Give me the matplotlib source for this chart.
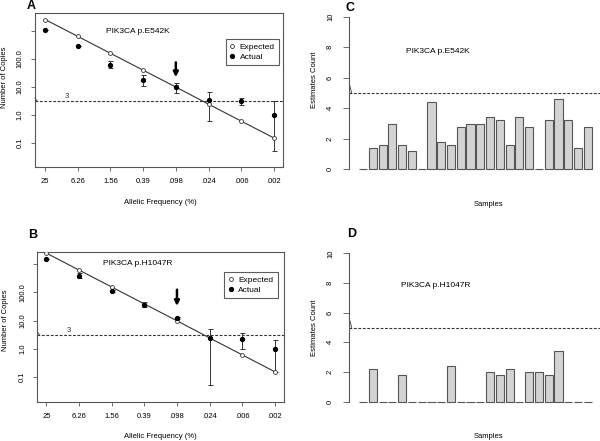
import numpy as np
import matplotlib
matplotlib.use('Agg')
import matplotlib.pyplot as plt

plt.rcParams['font.family'] = ['Liberation Sans', 'DejaVu Sans']

# dilution series
freq_labels = ['25', '6.26', '1.56', '0.39', '.098', '.024', '.006', '.002']
expected = [2500, 625, 156, 39, 9.8, 2.4, 0.6, 0.15]

# panel A - PIK3CA p.E542K
act_a = [1100, 280, 58, 17, 9.5, 3.4, 3.1, 1.0]
act_a_lo = [1100, 280, 45, 10.5, 6.0, 0.6, 2.3, 0.05]
act_a_hi = [1100, 280, 80, 26, 14, 6.5, 4.0, 3.2]

# panel B - PIK3CA p.H1047R
act_b = [1600, 400, 115, 37, 12, 2.3, 2.2, 1.0]
act_b_lo = [1600, 330, 105, 30, 11, 0.05, 1.0, 0.15]
act_b_hi = [1600, 480, 125, 45, 13, 5.0, 3.5, 2.0]

# panels C / D - estimates per sample
est_c = [0, 1.4, 1.6, 3.0, 1.6, 1.2, 0, 4.4, 1.8, 1.6, 2.8, 3.0,
         3.0, 3.4, 3.2, 1.6, 3.4, 2.8, 0, 3.2, 4.6, 3.2, 1.4, 2.8]
est_d = [0, 2.2, 0, 0, 1.8, 0, 0, 0, 0, 2.4, 0, 0,
         0, 2.0, 1.8, 2.2, 0, 2.0, 2.0, 1.8, 3.4, 0, 0, 0]

W, H = 600, 441
fig = plt.figure(figsize=(6, 4.41), dpi=100)
fs = 5.5
dark = '#333333'
frame = '#555555'


def px_axes(l, t, r, b):
    return fig.add_axes([l / W, 1 - b / H, (r - l) / W, (b - t) / H])


def copies_panel(ax, act, lo, hi, title, xlim, ylim, arrow, leg_anchor, three_x):
    x = np.arange(1, len(expected) + 1)
    ax.set_yscale('log')
    ax.plot(x, expected, '-', color=dark, lw=0.8, zorder=2)
    ax.plot(x, expected, 'o', mfc='white', mec=dark, ms=2.8, mew=0.6,
            label='Expected', zorder=3)
    err = [np.array(act) - np.array(lo), np.array(hi) - np.array(act)]
    ax.errorbar(x, act, yerr=err, fmt='none', ecolor=dark, elinewidth=0.7,
                capsize=1.8, capthick=0.7, zorder=2)
    ax.plot(x, act, 'o', color='black', ms=2.8, label='Actual', zorder=4)
    ax.axhline(3, color=dark, ls=(0, (2.5, 1.5)), lw=0.8)
    ax.text(three_x, 3.4, '3', fontsize=fs, color=dark, ha='center', va='bottom')
    # small mark at the start of the threshold line
    ax.plot([xlim[0], xlim[0] + 0.07], [3 * 1.35, 3], color=dark, lw=0.6,
            clip_on=False)
    ax.annotate('', xy=(5, arrow[1]), xytext=(5, arrow[0]),
                arrowprops=dict(arrowstyle='-|>', lw=1.8, color='black',
                                mutation_scale=7, shrinkA=0, shrinkB=0))
    ax.text(title[0], title[1], title[2], transform=ax.transAxes, fontsize=fs + 0.5,
            ha='center', va='center')
    ax.set_xlim(*xlim)
    ax.set_ylim(*ylim)
    ax.set_xticks(x)
    ax.set_xticklabels(freq_labels)
    ax.set_yticks([0.1, 1, 10, 100, 1000])
    ax.set_yticklabels(['0.1', '1.0', '10.0', '100.0', ''])
    ax.minorticks_off()
    ax.tick_params(labelsize=fs, length=3, width=0.6, color=frame, pad=5)
    for lab in ax.get_yticklabels():
        lab.set_rotation(90)
        lab.set_va('center')
    for s in ax.spines.values():
        s.set_color(frame)
        s.set_linewidth(0.8)
    leg = ax.legend(loc='upper right', bbox_to_anchor=leg_anchor, fontsize=fs + 0.5,
                    frameon=True, fancybox=False, handlelength=0.6,
                    handletextpad=0.6, borderpad=0.5, labelspacing=0.3,
                    borderaxespad=0)
    leg.get_frame().set_edgecolor(dark)
    leg.get_frame().set_linewidth(0.8)


def count_panel(ax, vals, title_xy, title):
    pos = 0.7 + 1.2 * np.arange(len(vals))
    ax.bar(pos, vals, width=1.0, color='#d3d3d3', edgecolor='#555555', lw=0.8)
    ax.axhline(5, color=dark, ls=(0, (2.5, 1.5)), lw=0.8)
    ax.plot([-0.99, -0.7], [5.6, 5.0], color=dark, lw=0.6, clip_on=False)
    ax.text(title_xy[0], title_xy[1], title, fontsize=fs + 0.5, ha='center',
            va='center')
    ax.set_xlim(-0.99, 29.8)
    ax.set_ylim(-0.4, 10.4)
    for s in ['top', 'right', 'bottom']:
        ax.spines[s].set_visible(False)
    ax.spines['left'].set_bounds(0, 10)
    ax.spines['left'].set_color(frame)
    ax.spines['left'].set_linewidth(0.8)
    ax.set_xticks([])
    ax.set_yticks([0, 2, 4, 6, 8, 10])
    ax.tick_params(labelsize=fs, length=4, width=0.6, color=frame, pad=7)
    for lab in ax.get_yticklabels():
        lab.set_rotation(90)
        lab.set_va('center')


ax_a = px_axes(35, 13, 283, 167.3)
copies_panel(ax_a, act_a, act_a_lo, act_a_hi, (0.415, 0.877, 'PIK3CA p.E542K'),
             (0.69, 8.28), (10 ** -1.87, 10 ** 3.63), (74, 22), (0.984, 0.832), 1.67)
ax_b = px_axes(37.3, 251.7, 284, 402.3)
copies_panel(ax_b, act_b, act_b_lo, act_b_hi, (0.408, 0.923, 'PIK3CA p.H1047R'),
             (0.72, 8.28), (10 ** -1.91, 10 ** 3.45), (125, 33), (0.974, 0.867), 1.67)

ax_c = px_axes(349.3, 10.6, 600, 175.4)
count_panel(ax_c, est_c, (9.9, 7.7), 'PIK3CA p.E542K')
ax_d = px_axes(349.3, 247.4, 600, 407.6)
count_panel(ax_d, est_d, (9.66, 7.86), 'PIK3CA p.H1047R')

# axis titles / panel letters in pixel positions
def ftext(x, y, s, **kw):
    fig.text(x / W, 1 - y / H, s, **kw)

ftext(160, 202.7, 'Allelic Frequency (%)', fontsize=fs, ha='center', va='center')
ftext(160, 436.7, 'Allelic Frequency (%)', fontsize=fs, ha='center', va='center')
ftext(5, 77, 'Number of Copies', fontsize=fs, ha='center', va='center', rotation=90)
ftext(6, 320, 'Number of Copies', fontsize=fs, ha='center', va='center', rotation=90)
ftext(489, 205, 'Samples', fontsize=fs, ha='center', va='center')
ftext(488, 436.7, 'Samples', fontsize=fs, ha='center', va='center')
ftext(315, 80, 'Estimates Count', fontsize=fs, ha='center', va='center', rotation=90)
ftext(315, 328, 'Estimates Count', fontsize=fs, ha='center', va='center', rotation=90)
for letter, x, y in [('A', 31, 6), ('B', 33, 235), ('C', 350, 8), ('D', 352, 234)]:
    ftext(x, y, letter, fontsize=9, fontweight='bold', ha='center', va='center')

fig.savefig('out.png', dpi=100)
